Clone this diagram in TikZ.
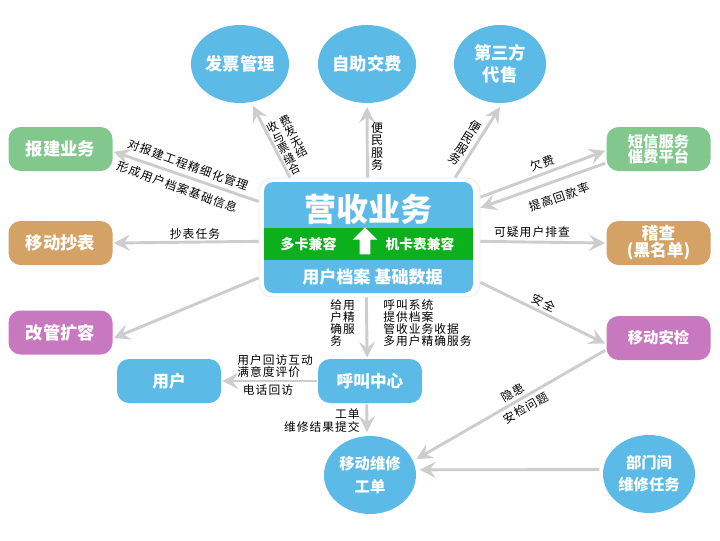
\documentclass[tikz,border=0pt]{standalone}
\usepackage{fontspec}
\setmainfont{Noto Sans CJK SC}
\usetikzlibrary{arrows.meta, shapes.geometric, shapes.arrows}
\definecolor{skyblue}{RGB}{91,186,230}
\definecolor{leafgreen}{RGB}{130,200,140}
\definecolor{sandtan}{RGB}{212,162,101}
\definecolor{orchidpink}{RGB}{200,120,190}
\definecolor{bandgreen}{RGB}{12,176,28}
\definecolor{linkgrey}{RGB}{205,205,205}
\newcommand{\pxu}{0.75pt}
\newcommand{\cjksize}[2]{\fontsize{#1}{#2}\selectfont}
\newcommand{\cjkspaced}[3]{\fontsize{#1}{#2}\selectfont\addfontfeature{LetterSpace=#3}}
\tikzset{
    x=0.75pt, y=-0.75pt,
    link/.style={line width=2.2pt, linkgrey, -{Stealth[length=12pt,width=12pt,inset=4.5pt]}},
    roundbox/.style={rectangle, rounded corners=9pt, fill=#1, text=white, outer sep=1pt, inner sep=0pt,
        minimum width=104*\pxu, minimum height=44*\pxu, align=center, font=\cjksize{13}{15}\bfseries},
    disc/.style={ellipse, fill=skyblue, text=white, outer sep=3pt, inner sep=0pt,
        minimum width=92*\pxu, minimum height=78*\pxu, align=center, font=\cjksize{13}{16.5}\bfseries},
    tag/.style={text=black, inner sep=0pt, align=left, font=\cjkspaced{8.8}{9}{9}},
}

\begin{document}
\begin{tikzpicture}
    \useasboundingbox (0,0) rectangle (720,540);

    \node[disc] (invoice)  at (240,64)  {发票管理};
    \node[disc] (selfpay)  at (367,64)  {自助交费};
    \node[disc] (resale)   at (500,64)  {第三方\\代售};
    \node[disc, font=\cjksize{11.5}{17}\bfseries] (repair) at (370,475) {移动维修\\工单};
    \node[disc, font=\cjksize{11.5}{16.5}\bfseries] (dept) at (649,474) {部门间\\维修任务};

    \node[roundbox=leafgreen]  (permit)  at (60.5,149)  {报建业务};
    \node[roundbox=sandtan]    (meter)   at (60.5,243)  {移动抄表};
    \node[roundbox=orchidpink] (rebuild) at (60.5,332.5) {改管扩容};
    \node[roundbox=leafgreen, font=\cjksize{11.5}{11.7}\bfseries] (sms) at (658.5,149) {短信服务\\催费平台};
    \node[roundbox=sandtan, font=\cjksize{12.5}{12.8}\bfseries] (audit) at (658.5,243) {稽查\\(黑名单)};
    \node[roundbox=orchidpink, font=\cjksize{11.5}{14}\bfseries] (safety) at (658.5,338) {移动安检};
    \node[roundbox=skyblue, font=\cjksize{12.5}{15}\bfseries] (client) at (169,381) {用户};
    \node[roundbox=skyblue, font=\cjksize{12.5}{15}\bfseries] (callcenter) at (370,381) {呼叫中心};

    \node[rectangle, rounded corners=10pt, draw=black!8, fill=white, line width=0.6pt, inner sep=0pt,
        minimum width=221*\pxu, minimum height=119*\pxu] (mainbox) at (369.5,237.5) {};
    \node[rectangle, rounded corners=7pt, fill=skyblue, inner sep=0pt,
        minimum width=209*\pxu, minimum height=111*\pxu] (mainfill) at (368.5,237.5) {};
    \node[rectangle, fill=bandgreen, inner sep=0pt,
        minimum width=209*\pxu, minimum height=32*\pxu] (band) at (368.5,244) {};
    \node[text=white, font=\cjksize{24}{26}\bfseries] (title) at (368,209) {营收业务};
    \node[text=white, font=\cjksize{10.5}{12}\bfseries] (multicard) at (308.5,244) {多卡兼容};
    \node[text=white, font=\cjksize{10.3}{12}\bfseries] (cardmeter) at (420,244) {机卡表兼容};
    \node[text=white, font=\cjksize{12.8}{15}\bfseries] (records) at (372.5,277) {用户档案 基础数据};
    \node[single arrow, fill=white, rotate=90, inner xsep=0pt, inner ysep=5*\pxu, minimum height=27*\pxu,
        single arrow head extend=7*\pxu] (uparrow) at (365,243.5) {};

    \draw[link] (mainbox.143.2) -- (invoice.-73);
    \draw[link] (mainbox.92.4)  -- (selfpay.south);
    \draw[link] (mainbox.35.5)  -- (resale.south);
    \draw[link] (mainbox.162.7) -- (permit.-3.3);
    \draw[link] (mainbox.182.85) -- (meter.east);
    \draw[link] (mainbox.200.6) -- (rebuild.-6.6);
    \draw[link] (mainbox.20.1)  -- (sms.182.2);
    \draw[link] (sms.195.9)     -- (mainbox.15.4);
    \draw[link] (mainbox.-2.85) -- (audit.west);
    \draw[link] (mainbox.-22.4) -- (safety.186.4);
    \draw[link] (safety.193.9)  -- (repair.19.9);
    \draw[link] (dept.175)      -- (repair.6);
    \draw[link] (mainbox.267.6) -- (callcenter.97.8);
    \draw[link] (callcenter.262.2) -- (repair.94.4);
    \draw[link] (callcenter.west) -- (client.east);

    \node[tag, rotate=27.5, font=\cjkspaced{8.6}{8.8}{20}] (invoicetag) at (290,145) {收费\\与发\\票无\\缝结\\合};
    \node[tag, align=center, font=\cjksize{9}{9.4}] (selfpaytag) at (377,146.5) {便\\民\\服\\务};
    \node[tag, align=center, rotate=-31.5, font=\cjksize{9}{9.4}] (resaletag) at (465,143) {便\\民\\服\\务};
    \node[tag, rotate=-19.9] (permittaga) at (188,165) {对报建工程精细化管理};
    \node[tag, rotate=-19.9] (permittagb) at (177,187) {形成用户档案基础信息};
    \node[tag] (metertag) at (195,234) {抄表任务};
    \node[tag, rotate=19.8] (smstaga) at (542,163) {欠费};
    \node[tag, rotate=19] (smstagb) at (559,197) {提高回款率};
    \node[tag] (audittag) at (532,232) {可疑用户排查};
    \node[tag, rotate=-25.6] (safetytag) at (544,303) {安全};
    \node[tag, rotate=29.5] (risktaga) at (513,393) {隐患};
    \node[tag, rotate=29.5] (risktagb) at (526,408) {安检问题};
    \node[tag, anchor=west] (servetag) at (330,323) {给用\\户精\\确服\\务};
    \node[tag, anchor=west] (calltag) at (383,323) {呼叫系统\\提供档案\\管收业务收据\\多用户精确服务};
    \node[tag, anchor=west] (visittag) at (237,366.5) {用户回访互动\\满意度评价};
    \node[tag] (phonetag) at (268,390) {电话回访};
    \node[tag, align=right, anchor=east, font=\cjkspaced{8.8}{9.8}{9}] (ordertag) at (360,420.5) {工单\\维修结果提交};
\end{tikzpicture}
\end{document}
